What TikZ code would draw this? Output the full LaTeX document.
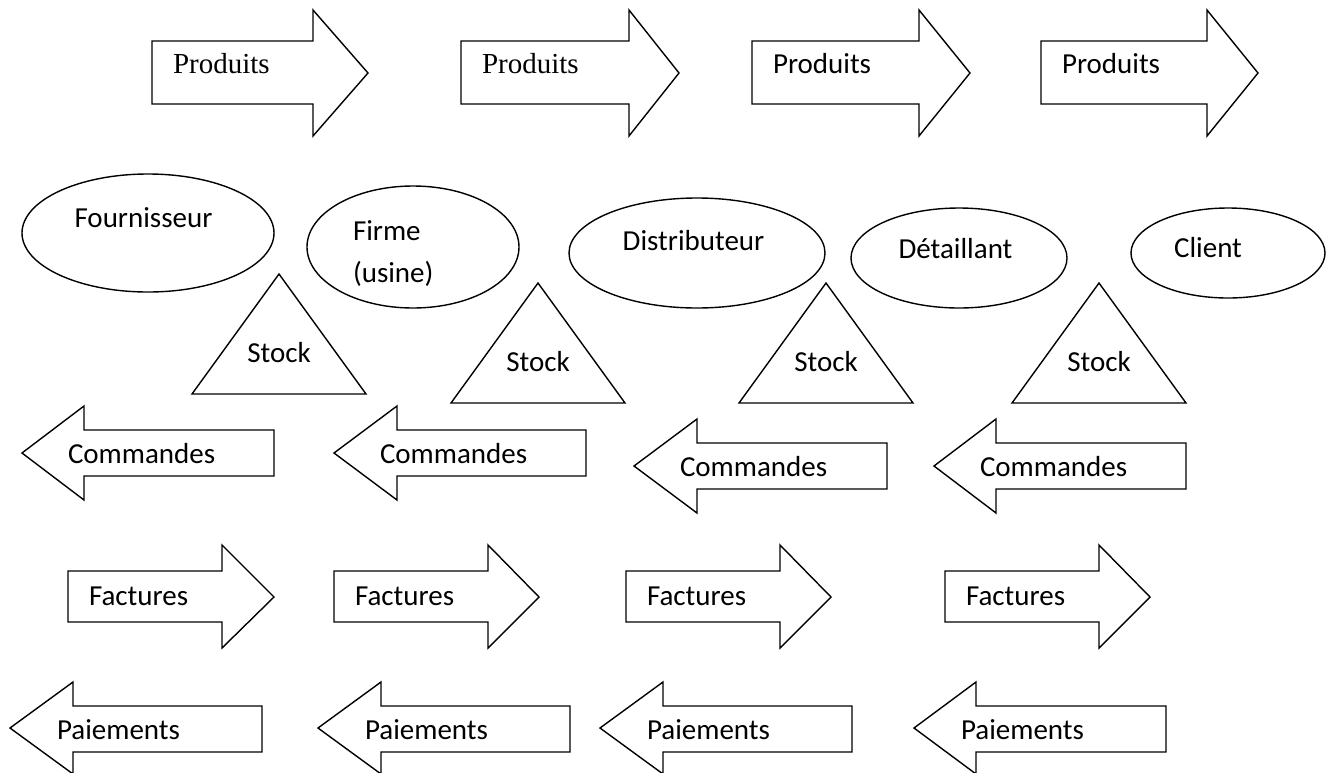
\documentclass[tikz,border=0pt]{standalone}
\usepackage{fontspec}
\setmainfont{Carlito}
\newfontfamily\tnrfont{Liberation Serif}
\usetikzlibrary{shapes.geometric}

\begin{document}
\begin{tikzpicture}[x=1pt,y=-1pt,line width=1.4pt,line join=miter,
  lbl/.style={font=\fontsize{29}{35}\selectfont,inner sep=0pt,outer sep=0pt},
  tnr/.style={lbl,font=\tnrfont\fontsize{29}{35}\selectfont},
  oval/.style={draw,ellipse,inner sep=0pt,outer sep=0pt}]
\useasboundingbox (0,0) rectangle (1326,772);

% Produits
\foreach \l/\s/\t/\st [count=\i] in {152/313/368/tnr,461/629/679/tnr,752/919/970/lbl,1041/1207/1258/lbl}
{
  \draw (\l,41) -- (\s,41) -- (\s,10) -- (\t,73) -- (\s,136) -- (\s,104) -- (\l,104) -- cycle;
  \node[\st,anchor=base west] (prod\i) at (\l+21,73) {Produits};
}

% acteurs
\node[oval,minimum width=252pt,minimum height=118pt] (four) at (148,233) {};
\node[oval,minimum width=212pt,minimum height=122pt] (firme) at (413,247) {};
\node[oval,minimum width=256pt,minimum height=110pt] (distr) at (697,253) {};
\node[oval,minimum width=216pt,minimum height=100pt] (detail) at (959,258) {};
\node[oval,minimum width=194pt,minimum height=90pt] (client) at (1228,253) {};
\node[lbl,anchor=base] (fourtxt) at (143.5,227) {Fournisseur};
\node[lbl,anchor=base west] (firmetxt) at (353,240) {Firme};
\node[lbl,anchor=base west] (usinetxt) at (353,282) {(usine)};
\node[lbl,anchor=base] (distrtxt) at (693.5,250) {Distributeur};
\node[lbl,anchor=base] (detailtxt) at (955.5,258) {Détaillant};
\node[lbl,anchor=base] (clienttxt) at (1208,257) {Client};

% stocks
\foreach \x/\y/\w [count=\i] in {279/274/87,538/283/87,826/283/87,1099/283/87}
{
  \draw (\x,\y) -- (\x+\w,\y+120) -- (\x-\w,\y+120) -- cycle;
  \node[lbl,anchor=base] (stock\i) at (\x,\y+88) {Stock};
}

% Commandes
\foreach \t/\h/\r/\c [count=\i] in {22/84/274/453,334/397/586/453,634/697/887/466,934/996/1186/466}
{
  \draw (\t,\c) -- (\h,\c-47) -- (\h,\c-23) -- (\r,\c-23) -- (\r,\c+23) -- (\h,\c+23) -- (\h,\c+47) -- cycle;
  \node[lbl,anchor=base west] (cmd\i) at (\t+46,\c+10) {Commandes};
}

% Factures
\foreach \l/\s/\t [count=\i] in {68/222/274,334/488/539,626/780/831,945/1099/1150}
{
  \draw (\l,571) -- (\s,571) -- (\s,545) -- (\t,597) -- (\s,648) -- (\s,622) -- (\l,622) -- cycle;
  \node[lbl,anchor=base west] (fact\i) at (\l+21,605) {Factures};
}

% Paiements
\foreach \t/\h/\r [count=\i] in {10/73/262,318/381/570,600/663/852,914/976/1166}
{
  \draw (\t,728) -- (\h,682) -- (\h,706) -- (\r,706) -- (\r,752) -- (\h,752) -- (\h,774) -- cycle;
  \node[lbl,anchor=base west] (pay\i) at (\t+47,739) {Paiements};
}
\end{tikzpicture}
\end{document}
